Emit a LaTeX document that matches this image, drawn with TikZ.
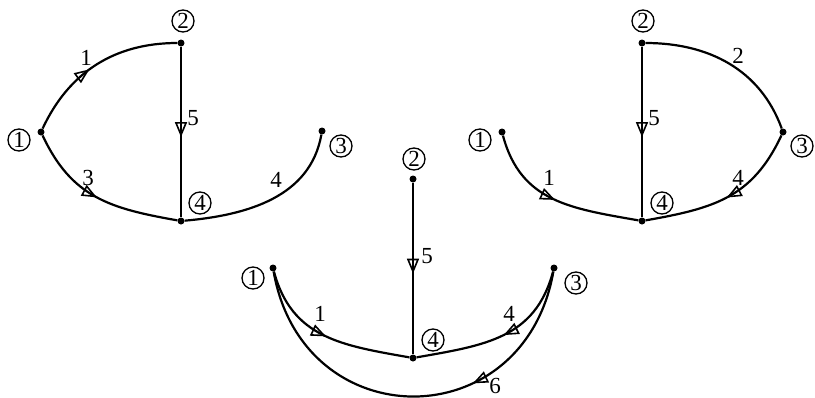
\documentclass[tikz,border=0pt]{standalone}
\usepackage{fontspec}
\setmainfont{Liberation Serif}
\usetikzlibrary{arrows.meta,decorations.markings}
\begin{document}
\begin{tikzpicture}[x=1pt,y=1pt,
  every node/.style={font=\fontsize{23}{23}\selectfont, inner sep=0pt},
  vtx/.style={circle, fill=black, minimum size=7pt, inner sep=0pt},
  tag/.style={circle, draw, line width=1.3pt, minimum size=22pt, inner sep=0pt},
  edge/.style={line width=2.2pt},
  mid/.style={postaction={decorate, decoration={markings,
      mark=at position #1 with {\arrow[line width=1.6pt]{Triangle[open,length=15pt,width=12pt]}}}}}
]
\useasboundingbox (0,0) rectangle (815,-397);
% ---------- left graph ----------
\node[vtx] (a1) at (41,-132) {};
\node[vtx] (a2) at (181,-43) {};
\node[vtx] (a4) at (181,-221) {};
\node[vtx] (a3) at (322,-131) {};
\node[tag] (ta1) at (19,-140) {1};
\node[tag] (ta2) at (183,-21) {2};
\node[tag] (ta3) at (341,-146) {3};
\node[tag] (ta4) at (200,-203) {4};
\draw[edge, mid=0.45] (a1) to[out=65, in=180] (a2);
\draw[edge, mid=0.5] (a1) to[out=-65, in=170, looseness=1.1] (a4);
\draw[edge, mid=0.53] (a2) -- (a4);
\draw[edge] (a4) to[out=5, in=-100] (a3);
\node (la1) at (86,-58) {1};
\node (la3) at (88,-178) {3};
\node (la5) at (193,-118) {5};
\node (la4) at (276,-180) {4};
% ---------- right graph ----------
\node[vtx] (b1) at (502,-132) {};
\node[vtx] (b2) at (642,-43) {};
\node[vtx] (b4) at (642,-221) {};
\node[vtx] (b3) at (783,-132) {};
\node[tag] (tb1) at (480,-140) {1};
\node[tag] (tb2) at (643,-21) {2};
\node[tag] (tb3) at (802,-146) {3};
\node[tag] (tb4) at (662,-203) {4};
\draw[edge] (b2) to[out=0, in=110] (b3);
\draw[edge, mid=0.53] (b2) -- (b4);
\draw[edge, mid=0.5] (b1) to[out=-75, in=170, looseness=1.1] (b4);
\draw[edge, mid=0.5] (b3) to[out=-115, in=10, looseness=1.1] (b4);
\node (lb2) at (738,-56) {2};
\node (lb5) at (654,-118) {5};
\node (lb1) at (549,-178) {1};
\node (lb4) at (738,-178) {4};
% ---------- bottom graph ----------
\node[vtx] (c1) at (273,-268) {};
\node[vtx] (c2) at (413,-179) {};
\node[vtx] (c4) at (413,-358) {};
\node[vtx] (c3) at (554,-268) {};
\node[tag] (tc1) at (253,-278) {1};
\node[tag] (tc2) at (414,-159) {2};
\node[tag] (tc3) at (576,-283) {3};
\node[tag] (tc4) at (433,-340) {4};
\draw[edge, mid=0.53] (c2) -- (c4);
\draw[edge, mid=0.5] (c1) to[out=-75, in=170, looseness=1.1] (c4);
\draw[edge, mid=0.48] (c3) to[out=-105, in=10, looseness=1.1] (c4);
\draw[edge, mid=0.35] (c3) to[out=-100, in=-80, looseness=1.55] (c1);
\node (lc5) at (427,-256) {5};
\node (lc1) at (320,-314) {1};
\node (lc4) at (509,-314) {4};
\node (lc6) at (495,-386) {6};
\end{tikzpicture}
\end{document}
